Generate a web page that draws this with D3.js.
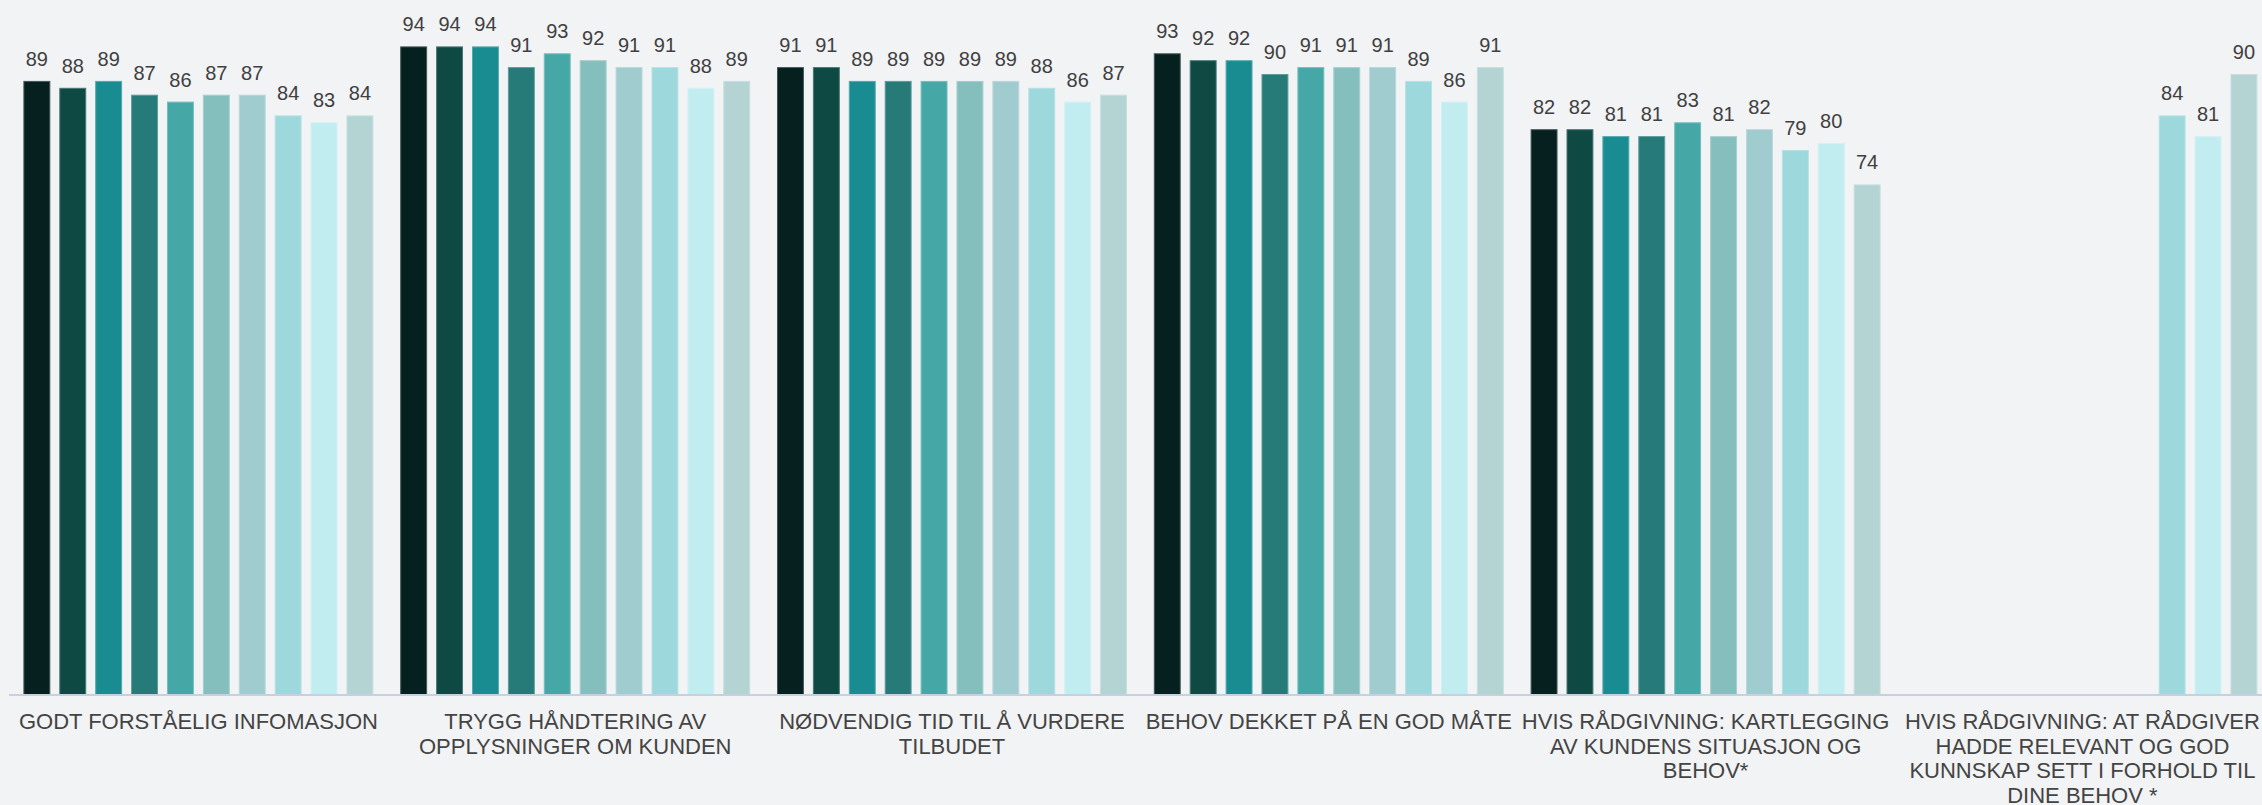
<!DOCTYPE html>
<html>
<head>
<meta charset="utf-8">
<script src="https://cdn.jsdelivr.net/npm/d3@7"></script>
<style>
  body { margin: 0; background: #f2f3f5; }
  svg { display: block; font-family: "Liberation Sans", Arial, sans-serif; }
</style>
</head>
<body>
<svg width="2262" height="805"></svg>
<script>
// categories along the x axis
const categories = [
    'GODT FORSTÅELIG INFOMASJON',
    'TRYGG HÅNDTERING AV OPPLYSNINGER OM KUNDEN',
    'NØDVENDIG TID TIL Å VURDERE TILBUDET',
    'BEHOV DEKKET PÅ EN GOD MÅTE',
    'HVIS RÅDGIVNING: KARTLEGGING AV KUNDENS SITUASJON OG BEHOV*',
    'HVIS RÅDGIVNING: AT RÅDGIVER HADDE RELEVANT OG GOD KUNNSKAP SETT I FORHOLD TIL DINE BEHOV *'
];

// ten series (no legend in the picture), one value per category, null = missing
const series = ['S1', 'S2', 'S3', 'S4', 'S5', 'S6', 'S7', 'S8', 'S9', 'S10'];
const s1  = [89, 94, 91, 93, 82, null];
const s2  = [88, 94, 91, 92, 82, null];
const s3  = [89, 94, 89, 92, 81, null];
const s4  = [87, 91, 89, 90, 81, null];
const s5  = [86, 93, 89, 91, 83, null];
const s6  = [87, 92, 89, 91, 81, null];
const s7  = [87, 91, 89, 91, 82, null];
const s8  = [84, 91, 88, 89, 79, 84];
const s9  = [83, 88, 86, 86, 80, 81];
const s10 = [84, 89, 87, 91, 74, 90];
const values = [s1, s2, s3, s4, s5, s6, s7, s8, s9, s10];

const colors = ['#061f1f', '#0e4944', '#198c92', '#267b78', '#45a8a6',
                '#85bfbd', '#a0cbcf', '#9dd8dc', '#c2edf0', '#b3d4d3'];

const svg = d3.select('svg');
const width = +svg.attr('width');
const height = +svg.attr('height');

const margin = { top: 5, left: 10, bottom: 110 };
const baseY = height - margin.bottom;   // 695
const step = 376.8;                      // width of one category band

// build flat table for the data join
const data = [];
categories.forEach((c, ci) => {
    series.forEach((s, si) => {
        const v = values[si][ci];
        if (v != null) data.push({ cat: c, ser: s, value: v, i: si });
    });
});

// scales
const x0 = d3.scaleBand()
    .domain(categories)
    .range([margin.left, margin.left + step * categories.length]);

const x1 = d3.scaleBand()
    .domain(series)
    .range([13.4, x0.bandwidth() - 13.4])
    .paddingInner(0.25);

const y = d3.scaleLinear()
    .domain([0, 100])
    .range([baseY, margin.top]);

const color = d3.scaleOrdinal().domain(series).range(colors);

// bars
svg.append('g').selectAll('rect').data(data)
    .enter().append('rect')
        .attr('x', d => x0(d.cat) + x1(d.ser) + 0.5)
        .attr('y', d => y(d.value) + 0.5)
        .attr('width', x1.bandwidth() - 1)
        .attr('height', d => baseY - y(d.value) - 0.5)
        .attr('fill', d => color(d.ser))
        .attr('stroke', d => d3.interpolateRgb(color(d.ser), '#ffffff')(0.25))
        .attr('stroke-width', 1);

// value labels
svg.append('g').selectAll('text').data(data)
    .enter().append('text')
        .attr('x', d => x0(d.cat) + x1(d.ser) + x1.bandwidth() / 2)
        .attr('y', d => y(d.value) - 15)
        .attr('text-anchor', 'middle')
        .attr('font-size', 20)
        .attr('fill', '#404040')
        .text(d => d.value);

// x axis
const xAxis = svg.append('g')
    .attr('transform', `translate(0,${baseY})`)
    .call(d3.axisBottom(x0).tickSize(0).tickSizeOuter(0));

xAxis.select('.domain')
    .attr('stroke', '#c5d0e0')
    .attr('stroke-width', 2)
    .attr('d', `M${margin.left - 1},0H${width}`);

xAxis.selectAll('.tick text')
    .attr('font-size', 22)
    .attr('font-family', '"Liberation Sans", Arial, sans-serif')
    .attr('fill', '#444444')
    .attr('y', 34)
    .attr('dy', 0)
    .each(function (d) {
        // wrap long category names to the band width
        const text = d3.select(this);
        const words = d.split(' ');
        text.text(null);
        let line = [];
        let lineNo = 0;
        let tspan = text.append('tspan').attr('x', 0).attr('dy', 0);
        words.forEach(w => {
            line.push(w);
            tspan.text(line.join(' '));
            if (tspan.node().getComputedTextLength() > step - 4 && line.length > 1) {
                line.pop();
                tspan.text(line.join(' '));
                line = [w];
                lineNo++;
                tspan = text.append('tspan').attr('x', 0).attr('dy', 24.5).text(w);
            }
        });
    });
</script>
</body>
</html>
